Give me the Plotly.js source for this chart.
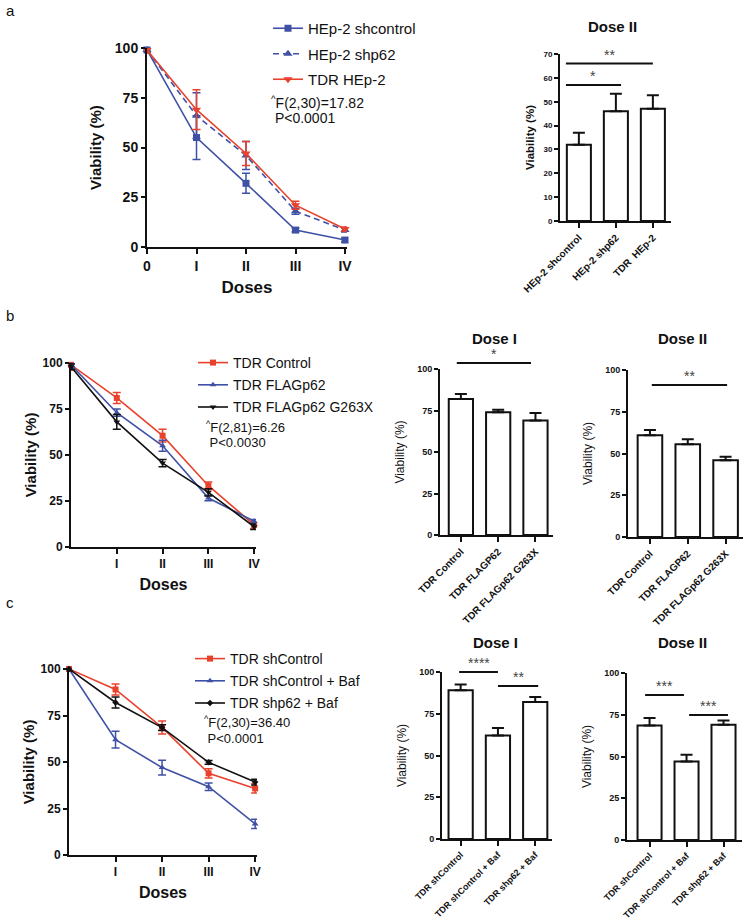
<!DOCTYPE html>
<html><head><meta charset="utf-8">
<script src="https://cdn.plot.ly/plotly-3.0.1.min.js"></script>
<style>html,body{margin:0;padding:0;background:#fff}#chart{width:746px;height:920px}</style>
</head><body><div id="chart"></div>
<script>
// ================= DATA =================
const doseX = [0, 1, 2, 3, 4];
const doseLabelsA = ['0', 'I', 'II', 'III', 'IV'];
const doseXBC = [1, 2, 3, 4];
const doseLabelsBC = ['I', 'II', 'III', 'IV'];
const viabTicks = [0, 25, 50, 75, 100];
const viabTicksA2 = [0, 10, 20, 30, 40, 50, 60, 70];

// panel a – line chart
const aShcontrol = [99, 55, 32, 8.5, 3.5];
const aShcontrolErr = [1, 11, 5, 1, 1];
const aShp62 = [99, 66, 46, 18, 8.5];
const aShp62Err = [1, 11.5, 7, 1.5, 1];
const aTdr = [99, 69, 47, 21, 9];
const aTdrErr = [1.5, 10, 6, 2, 1];
// panel a – bar chart (Dose II)
const aBarCats = ['HEp-2 shcontrol', 'HEp-2 shp62', 'TDR  HEp-2'];
const aBarVals = [32, 46, 47];
const aBarErr = [5, 7.3, 5.7];
const aSig = [
  {x0: -0.35, x1: 1.14, y: 57, label: '*'},
  {x0: -0.35, x1: 2.0, y: 66, label: '**'}
];

// panel b – line chart
const bControl = [99, 81, 60.5, 33.3, 12];
const bControlErr = [3, 3, 3.5, 2, 2];
const bFlag = [99, 73, 55, 26.6, 14];
const bFlagErr = [1, 2, 3, 1.5, 1];
const bG263X = [98, 68, 45.6, 29.7, 11];
const bG263XErr = [1.5, 4, 2, 2, 1.5];
// panel b – bar charts
const bBarCats = ['TDR Control', 'TDR FLAGP62', 'TDR FLAGp62 G263X'];
const bDose1 = [82, 74, 69];
const bDose1Err = [3, 1.5, 4.5];
const bDose2 = [61, 55.5, 46];
const bDose2Err = [3, 3, 2];
const bSig1 = [{x0: -0.11, x1: 1.88, y: 103.6, label: '*'}];
const bSig2 = [{x0: 0.05, x1: 2.04, y: 91, label: '**'}];

// panel c – line chart
const cShControl = [100, 89, 68.6, 43.9, 35.8];
const cShControlErr = [1, 3, 3.5, 2.5, 2.5];
const cShControlBaf = [100, 62, 47, 36.7, 16.7];
const cShControlBafErr = [1, 4.5, 4, 2, 2.5];
const cShp62Baf = [100, 82, 68.5, 49.8, 39.2];
const cShp62BafErr = [1, 3, 1.5, 1, 1.5];
// panel c – bar charts
const cBarCats = ['TDR shControl', 'TDR shControl + Baf', 'TDR shp62 + Baf'];
const cDose1 = [89, 62, 82];
const cDose1Err = [3.5, 4.5, 3];
const cDose2 = [68.5, 47, 69];
const cDose2Err = [4.5, 4, 2.5];
const cSig1 = [{x0: -0.04, x1: 1.0, y: 100, label: '****'}, {x0: 1.0, x1: 2.08, y: 91.6, label: '**'}];
const cSig2 = [{x0: -0.12, x1: 0.93, y: 86.8, label: '***'}, {x0: 1.07, x1: 2.12, y: 74.9, label: '***'}];

// ================= STYLE / LAYOUT =================
const W = 746, H = 920;
const BLUE = '#3f51a5', RED = '#e8412c', BLACK = '#111111';
const SANS = 'Liberation Sans, Arial, sans-serif';
const NARROW = 'Liberation Sans Narrow, Arial Narrow, Liberation Sans, Arial, sans-serif';
const px = (a, b) => [a / W, b / W];
const py = (top, bottom) => [1 - bottom / H, 1 - top / H];

function lineTrace(xa, ya, y, err, name, color, symbol, size, dash, legend) {
  return {
    type: 'scatter', mode: 'lines+markers', x: doseX, y: y, name: name,
    xaxis: xa, yaxis: ya, legend: legend, legendgroup: legend + name,
    line: {color: color, width: 1.6, dash: dash || 'solid'},
    marker: {color: color, symbol: symbol, size: size},
    error_y: {type: 'data', array: err, visible: true, color: color, thickness: 1.5, width: 4},
    cliponaxis: false, hoverinfo: 'skip'
  };
}
function barTrace(xa, ya, cats, vals, err) {
  return {
    type: 'bar', x: cats, y: vals, xaxis: xa, yaxis: ya, showlegend: false, width: 0.65,
    marker: {color: '#ffffff', line: {color: BLACK, width: 2}},
    error_y: {type: 'data', symmetric: false, array: err, arrayminus: err.map(() => 0),
              color: BLACK, thickness: 2, width: 6},
    cliponaxis: false, hoverinfo: 'skip'
  };
}
const commonAx = {showline: true, linecolor: BLACK, linewidth: 2, ticks: 'outside', tickcolor: BLACK,
  tickwidth: 2, showgrid: false, zeroline: false, fixedrange: true};

function lineX(anchor, dom, vals, labels, fs, titleSize, standoff) {
  return Object.assign({}, commonAx, {anchor: anchor, domain: dom, range: [0, 4.04],
    tickvals: vals, ticktext: labels, ticklen: 5,
    tickfont: {family: NARROW, size: fs, weight: 700, color: BLACK},
    title: {text: 'Doses', font: {family: SANS, size: titleSize, weight: 700, color: BLACK}, standoff: standoff}});
}
function lineY(anchor, dom, fs, titleSize, standoff) {
  return Object.assign({}, commonAx, {anchor: anchor, domain: dom, range: [0, 100],
    tickvals: viabTicks, ticklen: 4,
    tickfont: {family: NARROW, size: fs, weight: 700, color: BLACK},
    title: {text: 'Viability (%)', font: {family: SANS, size: titleSize, weight: 700, color: BLACK}, standoff: standoff}});
}
function barX(anchor, dom, range, cats, fs) {
  return Object.assign({}, commonAx, {anchor: anchor, domain: dom, range: range, type: 'category',
    categoryorder: 'array', categoryarray: cats, ticklen: 5, tickangle: -45,
    tickfont: {family: NARROW, size: fs, weight: 700, color: BLACK}});
}
function barY(anchor, dom, range, ticks, fs, titleSize, titleWeight, standoff) {
  return Object.assign({}, commonAx, {anchor: anchor, domain: dom, range: range, tickvals: ticks, ticklen: 4,
    tickfont: {family: NARROW, size: fs, weight: 700, color: BLACK},
    title: {text: 'Viability (%)', font: {family: SANS, size: titleSize, weight: titleWeight, color: BLACK}, standoff: standoff}});
}

const data = [
  lineTrace('x', 'y', aShcontrol, aShcontrolErr, 'HEp-2 shcontrol', BLUE, 'square', 7, 'solid', 'legend'),
  lineTrace('x', 'y', aShp62, aShp62Err, 'HEp-2 shp62', BLUE, 'triangle-up', 8, '6px,4px', 'legend'),
  lineTrace('x', 'y', aTdr, aTdrErr, 'TDR HEp-2', RED, 'triangle-down', 8, 'solid', 'legend'),
  barTrace('x2', 'y2', aBarCats, aBarVals, aBarErr),

  lineTrace('x3', 'y3', bControl, bControlErr, 'TDR Control', RED, 'square', 6, 'solid', 'legend2'),
  lineTrace('x3', 'y3', bFlag, bFlagErr, 'TDR FLAGp62', BLUE, 'triangle-up', 6, 'solid', 'legend2'),
  lineTrace('x3', 'y3', bG263X, bG263XErr, 'TDR FLAGp62 G263X', BLACK, 'triangle-down', 6, 'solid', 'legend2'),
  barTrace('x4', 'y4', bBarCats, bDose1, bDose1Err),
  barTrace('x5', 'y5', bBarCats, bDose2, bDose2Err),

  lineTrace('x6', 'y6', cShControl, cShControlErr, 'TDR shControl', RED, 'square', 6, 'solid', 'legend3'),
  lineTrace('x6', 'y6', cShControlBaf, cShControlBafErr, 'TDR shControl + Baf', BLUE, 'triangle-up', 6, 'solid', 'legend3'),
  lineTrace('x6', 'y6', cShp62Baf, cShp62BafErr, 'TDR shp62 + Baf', BLACK, 'diamond', 5, 'solid', 'legend3'),
  barTrace('x7', 'y7', cBarCats, cDose1, cDose1Err),
  barTrace('x8', 'y8', cBarCats, cDose2, cDose2Err)
];

const shapes = [], annotations = [];
function addSig(list, xa, ya, ymax) {
  list.forEach(s => {
    shapes.push({type: 'line', xref: xa, yref: ya + ' domain', x0: s.x0, x1: s.x1,
      y0: s.y / ymax, y1: s.y / ymax, line: {color: BLACK, width: 2}});
    annotations.push({xref: xa, yref: ya + ' domain', x: (s.x0 + s.x1) / 2, y: s.y / ymax, text: s.label,
      showarrow: false, yanchor: 'bottom', yshift: -1,
      font: {family: SANS, size: 14, color: '#444'}});
  });
}
addSig(aSig, 'x2', 'y2', 70);
addSig(bSig1, 'x4', 'y4', 100);
addSig(bSig2, 'x5', 'y5', 100);
addSig(cSig1, 'x7', 'y7', 100);
addSig(cSig2, 'x8', 'y8', 100);

function paperText(text, xp, yp, size, weight, xanchor) {
  annotations.push({xref: 'paper', yref: 'paper', x: xp / W, y: 1 - yp / H, text: text, showarrow: false,
    xanchor: xanchor || 'center', yanchor: 'middle',
    font: {family: SANS, size: size, weight: weight, color: BLACK}});
}
paperText('a', 4, 10, 15, 400, 'left');
paperText('b', 4, 315, 15, 400, 'left');
paperText('c', 4, 602, 15, 400, 'left');
paperText('Dose II', 612, 27, 15, 700);
paperText('Dose I', 494, 339, 15, 700);
paperText('Dose II', 682, 339, 15, 700);
paperText('Dose I', 495, 642, 15, 700);
paperText('Dose II', 682, 642, 15, 700);
paperText('<sup>^</sup>F(2,30)=17.82', 269, 102, 14, 400, 'left');
paperText(' P&lt;0.0001', 269, 118, 14, 400, 'left');
paperText('<sup>^</sup>F(2,81)=6.26', 204, 427, 13, 400, 'left');
paperText(' P&lt;0.0030', 204, 442, 13, 400, 'left');
paperText('<sup>^</sup>F(2,30)=36.40', 202, 722, 13, 400, 'left');
paperText(' P&lt;0.0001', 202, 738, 13, 400, 'left');

const legendBase = {xanchor: 'left', yanchor: 'top', bgcolor: 'rgba(0,0,0,0)', borderwidth: 0,
  itemclick: false, itemdoubleclick: false};

const layout = {
  width: W, height: H, margin: {l: 0, r: 0, t: 0, b: 0},
  paper_bgcolor: '#ffffff', plot_bgcolor: 'rgba(0,0,0,0)', font: {family: SANS, color: BLACK},
  showlegend: true,
  legend: Object.assign({}, legendBase, {x: 268 / W, y: 1 - 12 / H, font: {family: SANS, size: 15, color: BLACK}, tracegroupgap: 3}),
  legend2: Object.assign({}, legendBase, {x: 193 / W, y: 1 - 347 / H, font: {family: SANS, size: 14, color: BLACK}, tracegroupgap: 1}),
  legend3: Object.assign({}, legendBase, {x: 190 / W, y: 1 - 643 / H, font: {family: SANS, size: 14, color: BLACK}, tracegroupgap: 1}),

  xaxis: lineX('y', px(147, 347), doseX, doseLabelsA, 14, 17, 8),
  yaxis: lineY('x', py(48, 247), 14, 15, 10),
  xaxis2: barX('y2', px(560, 671), [-0.51, 2.49], aBarCats, 10),
  yaxis2: barY('x2', py(54, 221), [0, 70], viabTicksA2, 8, 11.5, 700, 6),

  xaxis3: lineX('y3', px(71, 256), doseXBC, doseLabelsBC, 12, 16, 8),
  yaxis3: lineY('x3', py(363, 547), 12, 15, 2),
  xaxis4: barX('y4', px(440, 553), [-0.56, 2.47], bBarCats, 10),
  yaxis4: barY('x4', py(369, 535), [0, 100], viabTicks, 9, 12, 400, 10),
  xaxis5: barX('y5', px(628, 743), [-0.58, 2.46], bBarCats, 10),
  yaxis5: barY('x5', py(370, 537), [0, 100], viabTicks, 9, 12, 400, 10),

  xaxis6: lineX('y6', px(69, 257), doseXBC, doseLabelsBC, 12, 16, 8),
  yaxis6: lineY('x6', py(669, 855), 12, 15, 2),
  xaxis7: barX('y7', px(442, 552), [-0.5, 2.45], cBarCats, 9),
  yaxis7: barY('x7', py(672, 839), [0, 100], viabTicks, 9, 12, 400, 10),
  xaxis8: barX('y8', px(627, 742), [-0.61, 2.5], cBarCats, 9),
  yaxis8: barY('x8', py(673, 840), [0, 100], viabTicks, 9, 12, 400, 10),

  shapes: shapes, annotations: annotations
};

Plotly.newPlot('chart', data, layout, {staticPlot: true, displayModeBar: false});
</script>
</body></html>
